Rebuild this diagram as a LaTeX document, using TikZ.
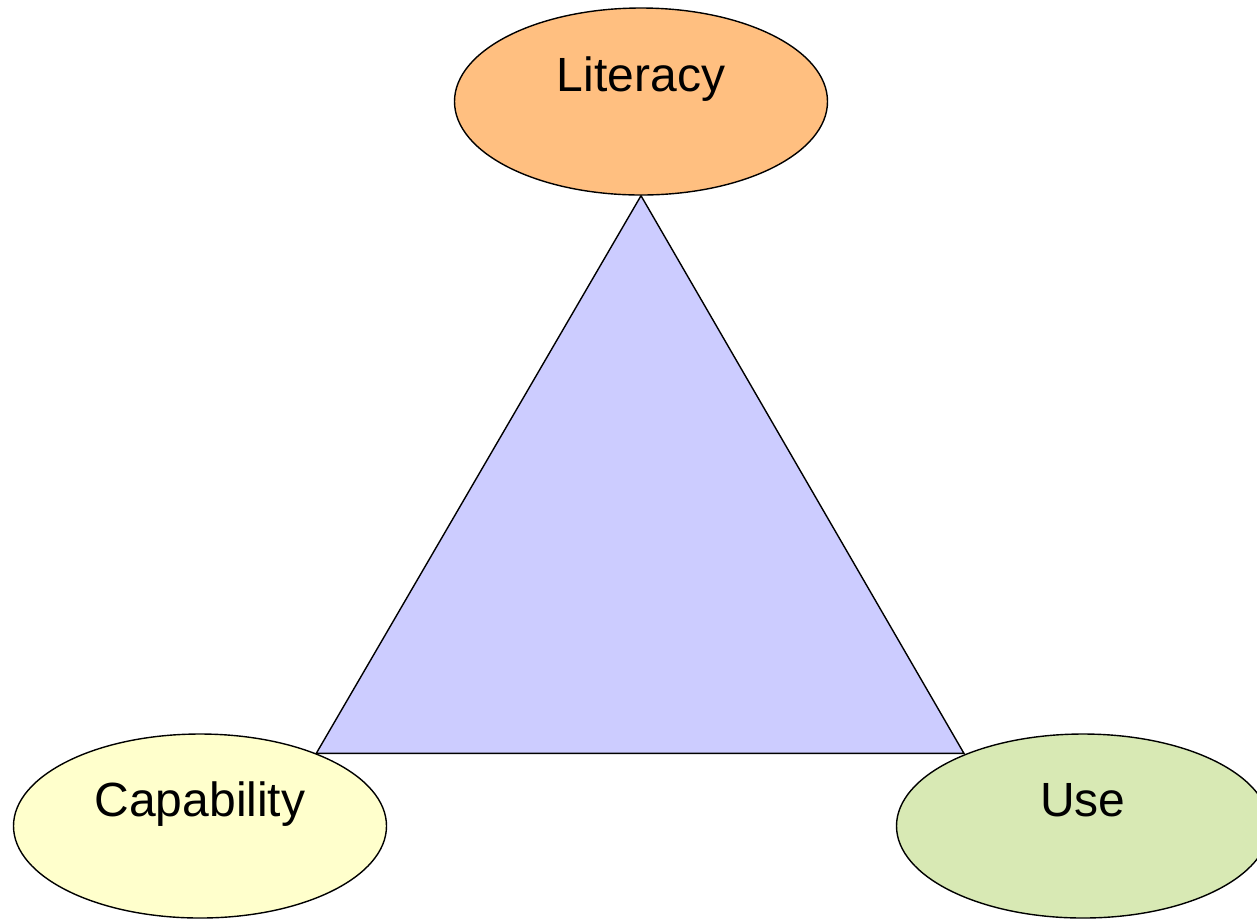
\documentclass[tikz,border=0pt]{standalone}
\usepackage{fontspec}
\setmainfont{Liberation Sans}
\usetikzlibrary{shapes.geometric, backgrounds}

\definecolor{ccorange}{RGB}{255,191,128}
\definecolor{ccyellow}{RGB}{255,255,204}
\definecolor{ccgreen}{RGB}{216,233,180}
\definecolor{cclilac}{RGB}{204,204,255}

\tikzset{
  bubble/.style={ellipse, draw=black, line width=0.7pt, inner sep=0pt,
    minimum width=186.5pt, minimum height=92pt,
    font=\fontsize{24}{29}\selectfont, text height=17.5pt, text depth=27.5pt}
}

\begin{document}
\begin{tikzpicture}[x=0.5pt, y=-0.5pt]

  % Frame
  \useasboundingbox (0,0) rectangle (1257,918);

  % Corners
  \node[bubble, fill=ccorange, minimum height=93.5pt] (literacy) at (641,101.5) {Literacy};
  \node[bubble, fill=ccyellow] (capability) at (200,826) {Capability};
  \node[bubble, fill=ccgreen] (use) at (1083,826) {Use};

  % Triangle
  \begin{pgfonlayer}{background}
    \filldraw[black, line width=0.7pt, fill=cclilac] (literacy.south) -- (capability.32) -- (capability.32 -| use.149) -- cycle;
  \end{pgfonlayer}

\end{tikzpicture}
\end{document}
